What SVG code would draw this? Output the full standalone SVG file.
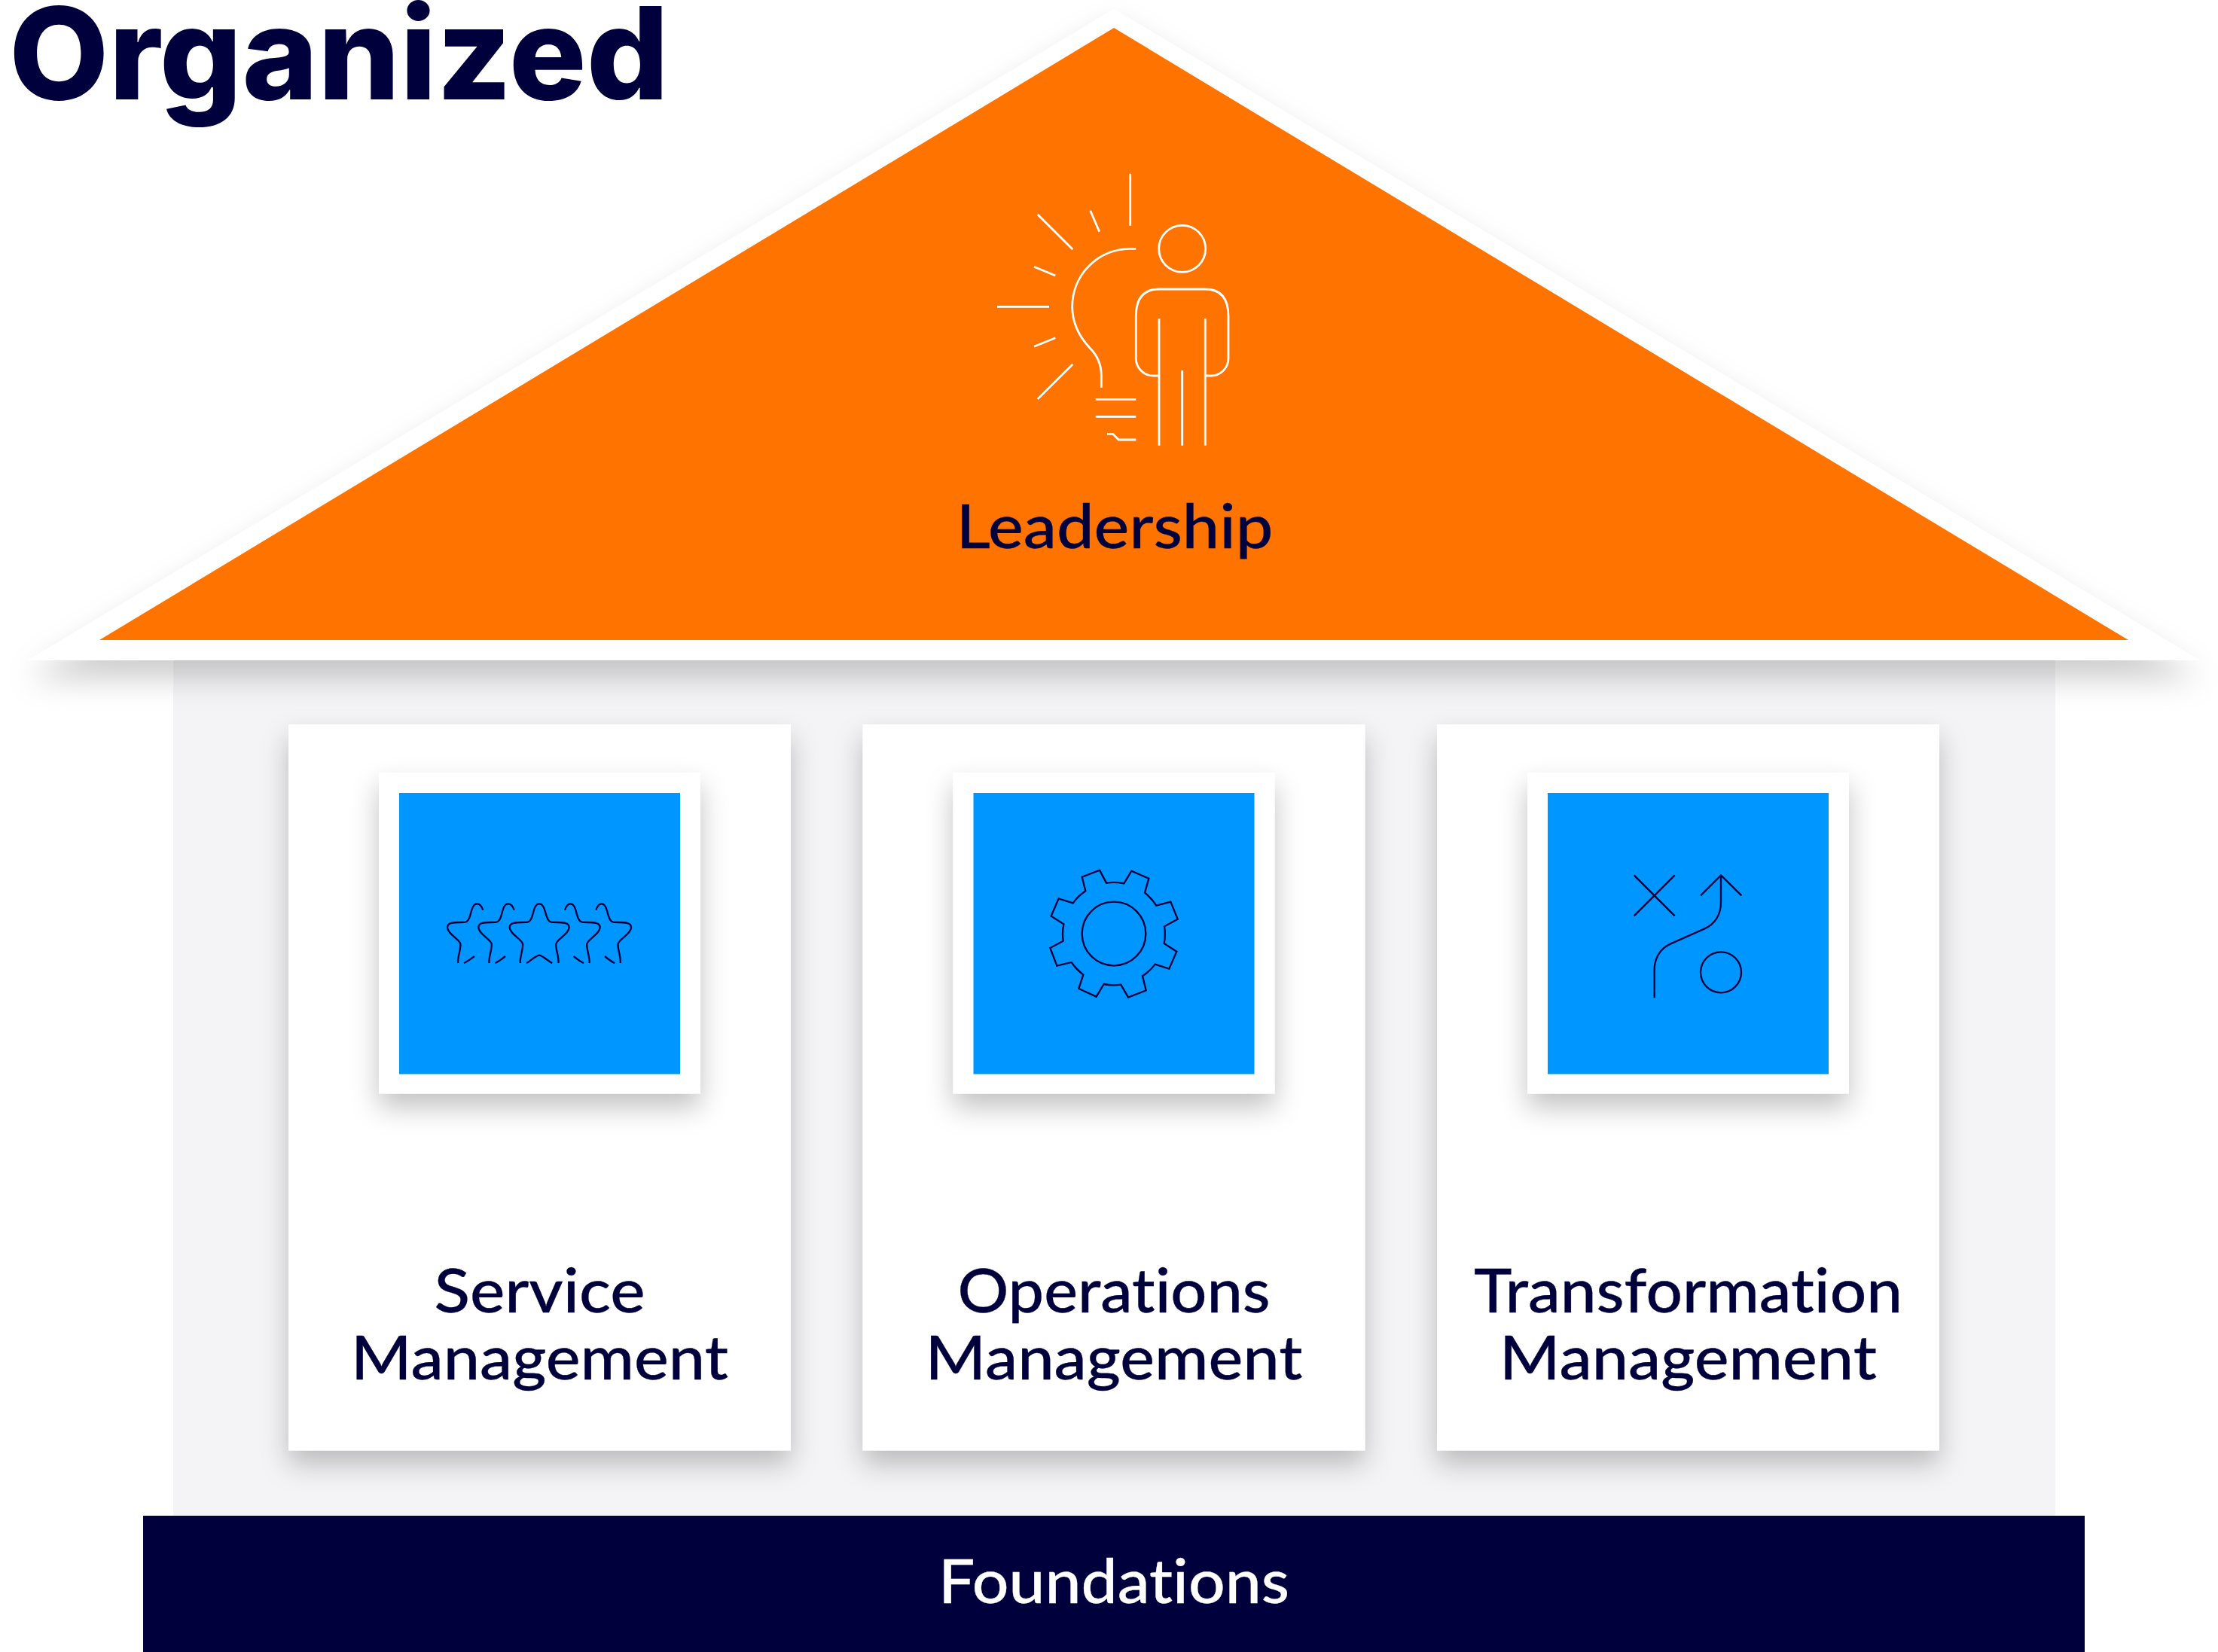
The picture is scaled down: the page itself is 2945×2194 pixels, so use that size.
<svg xmlns="http://www.w3.org/2000/svg" width="2945" height="2194" viewBox="0 0 2945 2194">
<defs>
<style>
.t{font-family:"Lato","Liberation Sans",sans-serif;font-size:82px;font-weight:500;fill:#00003c;stroke:#00003c;stroke-width:.3;text-anchor:middle;font-variant-ligatures:none}
.iw{fill:none;stroke:#fff;stroke-width:2.8}
.in{fill:none;stroke:#00003c;stroke-width:7}
.card{fill:#fff;filter:url(#cs)}
.blue{fill:#0096ff}
</style>
<filter id="ts" x="-5%" y="-5%" width="110%" height="115%"><feDropShadow dx="0" dy="24" stdDeviation="20" flood-color="#000" flood-opacity=".2"/></filter>
<filter id="cs" x="-15%" y="-15%" width="130%" height="130%"><feDropShadow dx="0" dy="18" stdDeviation="18" flood-color="#000" flood-opacity=".24"/></filter>
</defs>
<rect width="2945" height="2194" fill="#fff"/>
<rect id="wall" x="230" y="870" width="2499" height="1150" fill="#f4f4f6"/>
<g id="roof">
<polygon points="37,877 1479,12 2921,877" fill="#fff" filter="url(#ts)"/>
<polygon points="132,850 1479,37 2826,850" fill="#ff7400"/>
<g>
<path class="iw" d="M1500.7 230.7V299.7M1447.7 279.7L1459.7 307.7M1377.7 284.7L1424.3 331.3M1373 354.3L1401.3 366M1324 407.3H1393M1373 460.3L1401.3 448.7M1377.7 530L1424.3 483.7"/>
<path class="iw" d="M1508.3 330.3H1500.3A77 77 0 0 0 1423.7 407.3C1423.7 429 1433 447 1446.7 461.7C1457 472 1462.3 485 1462.3 498.3V514.7"/>
<path class="iw" d="M1454.7 530.3H1508.3M1454.7 553.3H1508.3M1470 576.3H1477.7L1485.3 584H1508.3"/>
<circle class="iw" cx="1569.7" cy="330.3" r="31"/>
<path class="iw" d="M1539 499H1531.3A23 23 0 0 1 1508.3 476V420C1508.3 396 1518 384 1539 384H1600.3C1621 384 1631 396 1631 420V476A23 23 0 0 1 1608 499H1600.3"/>
<path class="iw" d="M1539 423V591.7M1569.7 492V591.7M1600.3 423V591.7"/>
</g>
<text class="t" x="1480" y="728" textLength="421" lengthAdjust="spacingAndGlyphs">Leadership</text>
</g>
<g id="service">
<rect class="card" x="383" y="962" width="667" height="964.5"/>
<rect class="card" x="503" y="1026" width="427" height="426.5"/>
<rect class="blue" x="530" y="1053" width="373" height="373.5"/>
<g transform="translate(560 1170) scale(.3333)">
<path class="in" d="M393 327C388 310 405 270 402 250C398 232 350 210 350 185C350 165 375 165 400 165C425 165 432 165 440 140C447 118 450 91 468 91C486 91 490 118 497 140C505 165 512 165 537 165C562 165 587 165 587 185C587 210 540 232 535 250C532 270 549 310 544 327M417 327C430 322 455 296 468 296C481 296 506 322 520 327"/>
<path class="in" d="M269 327C264 310 281 270 278 250C274 232 226 210 226 185C226 165 251 165 276 165C301 165 308 165 316 140C323 118 326 91 344 91C355 91 363 100 368 116M292 327C305 322 320 310 333 300"/>
<path class="in" d="M145 327C140 310 157 270 154 250C150 232 102 210 102 185C102 165 127 165 152 165C177 165 184 165 192 140C199 118 202 91 220 91C231 91 239 100 244 116M168 327C181 322 196 310 210 300"/>
<path class="in" d="M667 327C672 310 655 270 658 250C662 232 710 210 710 185C710 165 685 165 660 165C635 165 628 165 620 140C613 118 610 91 592 91C581 91 575 100 570 116M645 327C632 322 617 310 605 300"/>
<path class="in" d="M791 327C796 310 779 270 782 250C786 232 834 210 834 185C834 165 809 165 784 165C759 165 752 165 744 140C737 118 734 91 716 91C705 91 699 100 694 116M769 327C756 322 741 310 729 300"/>
</g>
<text class="t" x="716.5" y="1743" textLength="280" lengthAdjust="spacingAndGlyphs">Service</text>
<text class="t" x="716.5" y="1831.5" textLength="501" lengthAdjust="spacingAndGlyphs">Management</text>
</g>
<g id="operations">
<rect class="card" x="1145.5" y="962" width="667" height="964.5"/>
<rect class="card" x="1265.5" y="1026" width="427" height="426.5"/>
<rect class="blue" x="1292.5" y="1053" width="373" height="373.5"/>
<g transform="translate(1370 1130) scale(.3333)">
<path class="in" d="M270 77L297 128A203 203 0 0 1 367 130L397 80L466 110L450 167A203 203 0 0 1 496 218L553 203L581 272L528 301A203 203 0 0 1 527 369L577 401L547 470L491 452A203 203 0 0 1 441 499L455 556L384 584L355 533A203 203 0 0 1 287 531L257 581L187 549L205 493A203 203 0 0 1 158 444L100 458L73 387L125 359A203 203 0 0 1 127 292L77 260L107 190L164 208A203 203 0 0 1 214 160L200 104Z"/>
<circle class="in" cx="327" cy="330" r="127"/>
</g>
<text class="t" x="1479" y="1743" textLength="415" lengthAdjust="spacingAndGlyphs">Operations</text>
<text class="t" x="1479" y="1831.5" textLength="501" lengthAdjust="spacingAndGlyphs">Management</text>
</g>
<g id="transformation">
<rect class="card" x="1908" y="962" width="667" height="964.5"/>
<rect class="card" x="2028" y="1026" width="427" height="426.5"/>
<rect class="blue" x="2055" y="1053" width="373" height="373.5"/>
<g transform="translate(2140 1130) scale(.3333)">
<path class="in" d="M89 97L251 259M89 259L251 97M354 178L435 97L517 178M435 97V205C435 255 410 293 370 310L235 370C195 388 170 425 170 475V586"/>
<circle class="in" cx="435" cy="484" r="81"/>
</g>
<text class="t" x="2241.5" y="1743" textLength="569" lengthAdjust="spacingAndGlyphs">Transformation</text>
<text class="t" x="2241.5" y="1831.5" textLength="501" lengthAdjust="spacingAndGlyphs">Management</text>
</g>
<g id="foundations">
<rect x="190" y="2013" width="2578" height="181" fill="#00003c"/>
<text class="t" x="1479" y="2129" style="fill:#fff;stroke:#fff" textLength="466" lengthAdjust="spacingAndGlyphs">Foundations</text>
</g>
<text id="title" x="12" y="132" style="font-family:'Inter','Liberation Sans',sans-serif;font-size:170px;font-weight:800;fill:#00003c" textLength="876" lengthAdjust="spacingAndGlyphs">Organized</text>
</svg>
